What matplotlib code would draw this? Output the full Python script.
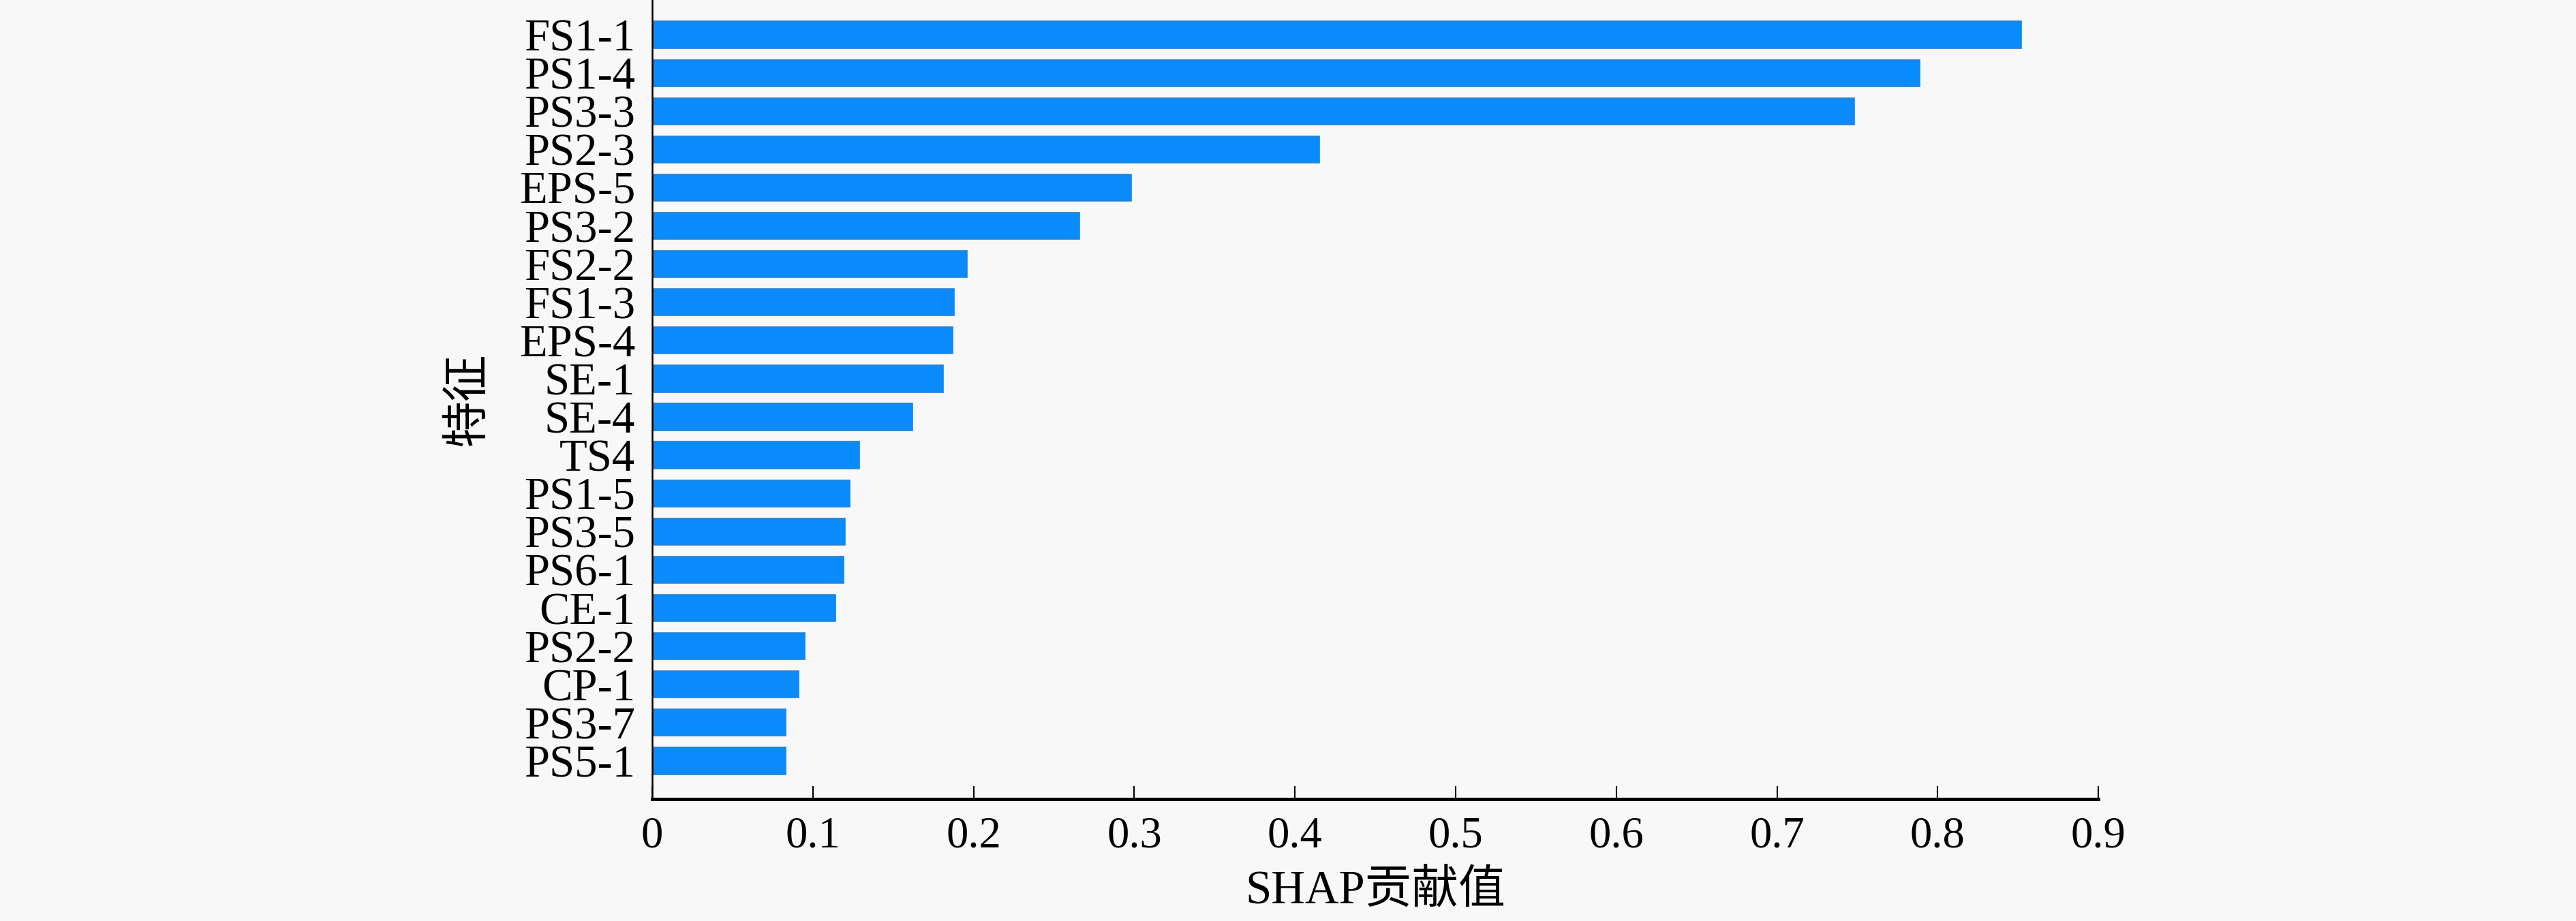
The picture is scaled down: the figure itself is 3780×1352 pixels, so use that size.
import numpy as np
import matplotlib
matplotlib.use('Agg')
import matplotlib.pyplot as plt
from matplotlib.ticker import FuncFormatter

plt.rcParams['font.family'] = ['Liberation Serif', 'Noto Sans CJK SC']

features = ['FS1-1', 'PS1-4', 'PS3-3', 'PS2-3', 'EPS-5', 'PS3-2', 'FS2-2', 'FS1-3',
            'EPS-4', 'SE-1', 'SE-4', 'TS4', 'PS1-5', 'PS3-5', 'PS6-1', 'CE-1',
            'PS2-2', 'CP-1', 'PS3-7', 'PS5-1']
shap_values = [0.852, 0.789, 0.748, 0.415, 0.298, 0.266, 0.196, 0.188,
               0.187, 0.181, 0.162, 0.129, 0.123, 0.120, 0.119, 0.114,
               0.095, 0.091, 0.083, 0.083]
x_ticks = [0, 0.1, 0.2, 0.3, 0.4, 0.5, 0.6, 0.7, 0.8, 0.9]

bg = '#f8f8f8'
fig = plt.figure(figsize=(12.6, 4.5067), dpi=300, facecolor=bg)
ax = fig.add_axes([0.2532, 0.1324, 0.5614, 0.8676], facecolor=bg)

y_pos = np.arange(len(features))
ax.barh(y_pos, shap_values, height=0.7, color='#0a8bfb',
        edgecolor='#2b80cf', linewidth=0.4)

ax.set_ylim(20.0, -0.91)
ax.set_xlim(0, 0.9)
ax.set_yticks(y_pos)
ax.set_yticklabels(features, fontsize=16)
ax.set_xticks(x_ticks)
ax.xaxis.set_major_formatter(FuncFormatter(lambda v, p: '%g' % v))

ax.tick_params(axis='x', direction='in', length=4.6, width=0.5, pad=6, labelsize=15.5)
ax.tick_params(axis='y', length=0, pad=6)

ax.spines['top'].set_visible(False)
ax.spines['right'].set_visible(False)
ax.spines['bottom'].set_linewidth(1.2)
ax.spines['left'].set_linewidth(0.6)

ax.set_xlabel('SHAP贡献值', fontsize=16.5, labelpad=5)
ax.set_ylabel('特征', fontsize=16.5, labelpad=10)

fig.savefig('out.png', dpi=300, facecolor=bg)
